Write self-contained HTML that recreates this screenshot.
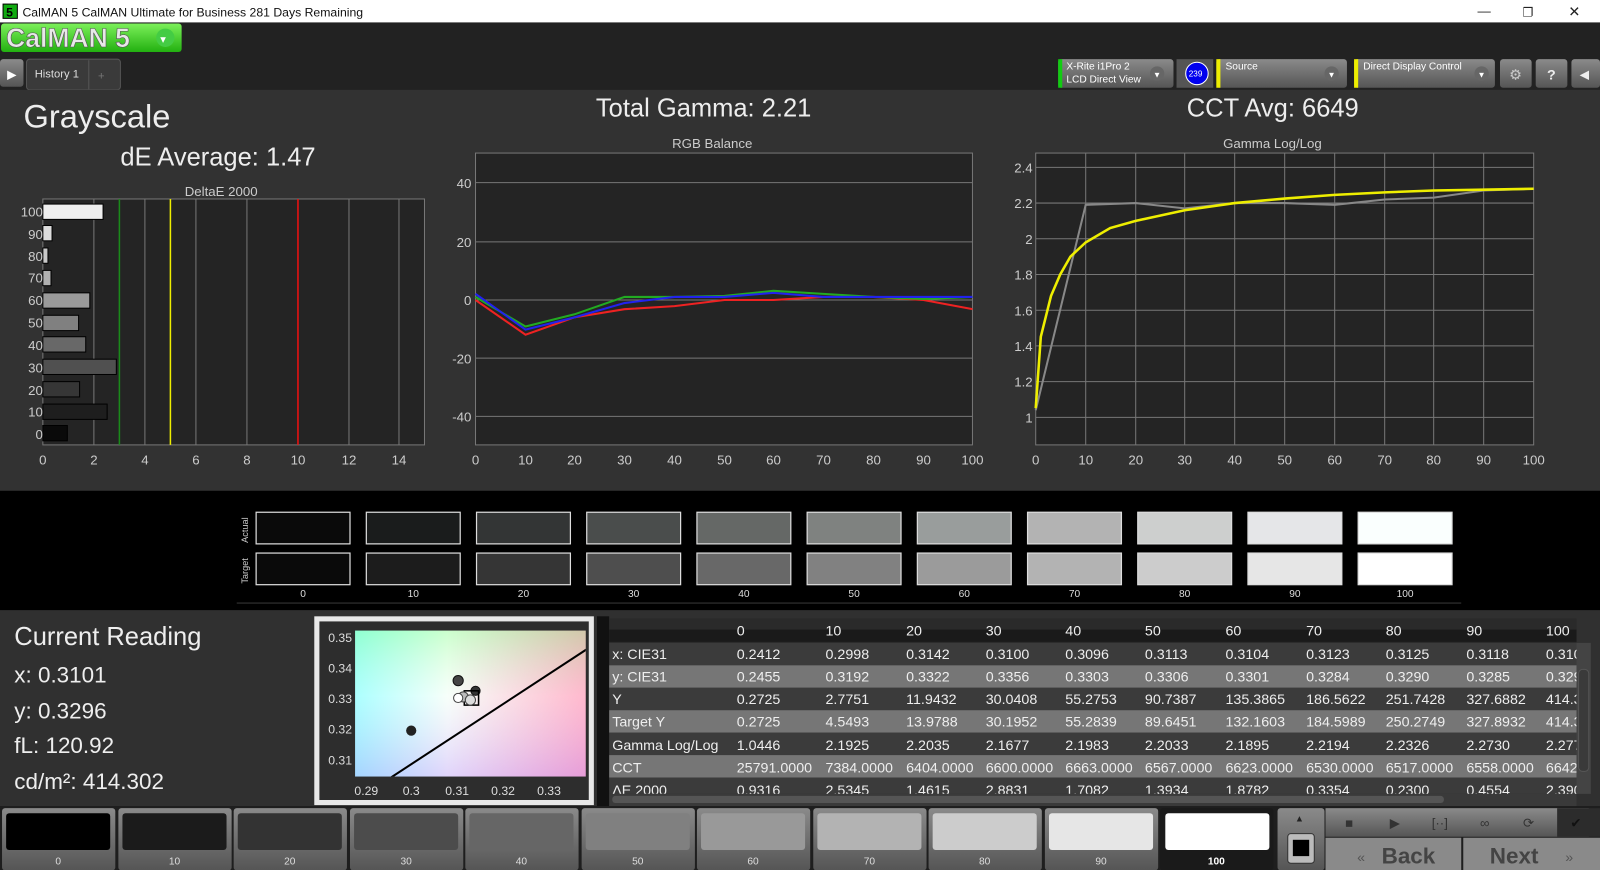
<!DOCTYPE html>
<html><head><meta charset="utf-8"><style>
html,body{margin:0;padding:0;background:#222;overflow:hidden}
svg{display:block}
text{font-family:"Liberation Sans","DejaVu Sans",sans-serif}
</style></head><body>
<svg width="1600" height="870" viewBox="0 0 1568 852.6" preserveAspectRatio="none" xmlns="http://www.w3.org/2000/svg">
<defs>
<linearGradient id="grn" x1="0" y1="0" x2="0" y2="1"><stop offset="0" stop-color="#7cf05a"/><stop offset="1" stop-color="#22b010"/></linearGradient>
<linearGradient id="btn" x1="0" y1="0" x2="0" y2="1"><stop offset="0" stop-color="#8a8a8a"/><stop offset="1" stop-color="#555"/></linearGradient>
<linearGradient id="cieH" x1="0" y1="0" x2="1" y2="0"><stop offset="0" stop-color="#8ff"/><stop offset="0.4" stop-color="#f4fff8"/><stop offset="1" stop-color="#ff9ab8"/></linearGradient>
<linearGradient id="cieV" x1="0" y1="0" x2="0" y2="1"><stop offset="0" stop-color="#9f9" stop-opacity="0.45"/><stop offset="0.45" stop-color="#fff" stop-opacity="0.3"/><stop offset="1" stop-color="#c8a0ff" stop-opacity="0.45"/></linearGradient>
<clipPath id="tbl"><rect x="597" y="606" width="948" height="172"/></clipPath>
<clipPath id="cie"><rect x="348" y="618" width="226" height="143"/></clipPath>
</defs>
<rect x="0" y="0" width="1568" height="22" fill="#fff"/>
<rect x="3" y="4" width="14" height="14" fill="#1a1" stroke="#000"/><text x="6" y="16" font-size="12" font-weight="bold" fill="#000">5</text>
<text x="22" y="16" font-size="12" fill="#111">CalMAN 5 CalMAN Ultimate for Business 281 Days Remaining</text>
<text x="1448" y="15" font-size="13" fill="#222">—</text><text x="1492" y="16" font-size="12" fill="#222">❐</text><text x="1537" y="16" font-size="14" fill="#222">✕</text>
<rect x="0" y="22" width="1568" height="66" fill="#222"/>
<rect x="1" y="23" width="177" height="28" rx="3" fill="url(#grn)"/>
<text x="6" y="46" font-size="26" font-weight="bold" fill="#e8e8e8" stroke="#555" stroke-width="0.6">CalMAN 5</text>
<circle cx="162" cy="37" r="9" fill="#4c4"/><text x="157" y="42" font-size="11" fill="#fff">▾</text>
<rect x="0" y="58" width="23" height="27" rx="3" fill="url(#btn)"/><text x="7" y="77" font-size="12" fill="#fff">▶</text>
<rect x="26" y="58" width="92" height="30" rx="3" fill="#3a3a3a" stroke="#555"/>
<text x="34" y="76" font-size="11" fill="#ddd">History 1</text><line x1="87" y1="59" x2="87" y2="88" stroke="#555"/>
<text x="96" y="78" font-size="11" fill="#777">+</text>
<rect x="1037" y="58" width="113" height="28" rx="3" fill="url(#btn)"/><rect x="1037" y="58" width="4" height="28" fill="#1c1"/>
<text x="1045" y="68" font-size="10" fill="#fff">X-Rite i1Pro 2</text><text x="1045" y="81" font-size="10" fill="#fff">LCD Direct View</text>
<circle cx="1134" cy="72" r="7" fill="#666"/><text x="1130" y="76" font-size="8" fill="#fff">▼</text>
<rect x="1153" y="58" width="36" height="28" fill="#555"/><circle cx="1173" cy="72" r="11" fill="#00e" stroke="#fff"/><text x="1165" y="75" font-size="8" fill="#fff">239</text>
<rect x="1192" y="58" width="128" height="28" rx="3" fill="url(#btn)"/><rect x="1192" y="58" width="4" height="28" fill="#ee0"/>
<text x="1201" y="68" font-size="10" fill="#fff">Source</text><circle cx="1305" cy="72" r="7" fill="#666"/><text x="1301" y="76" font-size="8" fill="#fff">▼</text>
<rect x="1327" y="58" width="138" height="28" rx="3" fill="url(#btn)"/><rect x="1327" y="58" width="4" height="28" fill="#ee0"/>
<text x="1336" y="68" font-size="10" fill="#fff">Direct Display Control</text><circle cx="1452" cy="72" r="7" fill="#666"/><text x="1448" y="76" font-size="8" fill="#fff">▼</text>
<rect x="1470" y="58" width="31" height="28" rx="3" fill="url(#btn)"/><text x="1479" y="78" font-size="14" fill="#ccc">⚙</text>
<rect x="1505" y="58" width="31" height="28" rx="3" fill="url(#btn)"/><text x="1516" y="78" font-size="14" font-weight="bold" fill="#eee">?</text>
<rect x="1540" y="58" width="28" height="28" rx="3" fill="url(#btn)"/><text x="1548" y="77" font-size="12" fill="#eee">◀</text>
<rect x="0" y="88" width="1568" height="393" fill="#323232"/>
<text x="23" y="125" font-size="32" fill="#eee">Grayscale</text>
<text x="118" y="162" font-size="25" fill="#eee">dE Average: 1.47</text>
<text x="584" y="114" font-size="25" fill="#eee">Total Gamma: 2.21</text>
<text x="1163" y="114" font-size="25" fill="#eee">CCT Avg: 6649</text>
<text x="181" y="192" font-size="13" fill="#ccc">DeltaE 2000</text>
<rect x="42" y="195" width="374" height="241" fill="#242424" stroke="#777"/>
<g stroke="#777" stroke-width="1">
<line x1="92" y1="195" x2="92" y2="436"/><line x1="142" y1="195" x2="142" y2="436"/><line x1="192" y1="195" x2="192" y2="436"/><line x1="242" y1="195" x2="242" y2="436"/><line x1="342" y1="195" x2="342" y2="436"/><line x1="391" y1="195" x2="391" y2="436"/>
</g>
<line x1="117" y1="195" x2="117" y2="436" stroke="#1a8a1a" stroke-width="1.5"/>
<line x1="167" y1="195" x2="167" y2="436" stroke="#ee0" stroke-width="1.5"/>
<line x1="292" y1="195" x2="292" y2="436" stroke="#e11" stroke-width="1.5"/>
<g stroke="#000" stroke-width="1">
<rect x="42" y="200" width="59" height="15" fill="#eee"/>
<rect x="42" y="221" width="9" height="15" fill="#ddd"/>
<rect x="42" y="243" width="5" height="15" fill="#c8c8c8"/>
<rect x="42" y="265" width="8" height="15" fill="#b0b0b0"/>
<rect x="42" y="287" width="46" height="15" fill="#9a9a9a"/>
<rect x="42" y="309" width="35" height="15" fill="#808080"/>
<rect x="42" y="330" width="42" height="15" fill="#686868"/>
<rect x="42" y="352" width="72" height="15" fill="#505050"/>
<rect x="42" y="374" width="36" height="15" fill="#363636"/>
<rect x="42" y="396" width="63" height="15" fill="#1e1e1e"/>
<rect x="42" y="417" width="24" height="15" fill="#0a0a0a"/>
</g>
<g font-size="13" fill="#ccc" text-anchor="end">
<text x="42" y="212">100</text><text x="42" y="234">90</text><text x="42" y="256">80</text><text x="42" y="277">70</text><text x="42" y="299">60</text><text x="42" y="321">50</text><text x="42" y="343">40</text><text x="42" y="365">30</text><text x="42" y="387">20</text><text x="42" y="408">10</text><text x="42" y="430">0</text>
</g>
<g font-size="13" fill="#ccc" text-anchor="middle">
<text x="42" y="455">0</text><text x="92" y="455">2</text><text x="142" y="455">4</text><text x="192" y="455">6</text><text x="242" y="455">8</text><text x="292" y="455">10</text><text x="342" y="455">12</text><text x="391" y="455">14</text>
</g>
<text x="698" y="145" font-size="13" fill="#ccc" text-anchor="middle">RGB Balance</text>
<rect x="466" y="150" width="487" height="286" fill="#242424" stroke="#777"/>
<g stroke="#777"><line x1="466" y1="179" x2="953" y2="179"/><line x1="466" y1="237" x2="953" y2="237"/><line x1="466" y1="294" x2="953" y2="294"/><line x1="466" y1="351" x2="953" y2="351"/><line x1="466" y1="408" x2="953" y2="408"/></g>
<polyline fill="none" stroke="#e22" stroke-width="2" points="466,294 515,328 563,311 612,303 661,300 710,294 758,294 807,291 856,291 905,294 953,303"/>
<polyline fill="none" stroke="#2a2" stroke-width="2" points="466,291 515,320 563,308 612,291 661,291 710,290 758,285 807,288 856,291 905,293 953,291"/>
<polyline fill="none" stroke="#22e" stroke-width="2" points="466,288 515,323 563,311 612,297 661,291 710,291 758,287 807,291 856,291 905,291 953,291"/>
<g font-size="13" fill="#ccc" text-anchor="end"><text x="462" y="184">40</text><text x="462" y="242">20</text><text x="462" y="299">0</text><text x="462" y="356">-20</text><text x="462" y="413">-40</text></g>
<g font-size="13" fill="#ccc" text-anchor="middle"><text x="466" y="455">0</text><text x="515" y="455">10</text><text x="563" y="455">20</text><text x="612" y="455">30</text><text x="661" y="455">40</text><text x="710" y="455">50</text><text x="758" y="455">60</text><text x="807" y="455">70</text><text x="856" y="455">80</text><text x="905" y="455">90</text><text x="953" y="455">100</text></g>
<text x="1247" y="145" font-size="13" fill="#ccc" text-anchor="middle">Gamma Log/Log</text>
<rect x="1015" y="150" width="488" height="286" fill="#242424" stroke="#777"/>
<g stroke="#777"><line x1="1015" y1="164" x2="1503" y2="164"/><line x1="1015" y1="199" x2="1503" y2="199"/><line x1="1015" y1="234" x2="1503" y2="234"/><line x1="1015" y1="269" x2="1503" y2="269"/><line x1="1015" y1="304" x2="1503" y2="304"/><line x1="1015" y1="339" x2="1503" y2="339"/><line x1="1015" y1="374" x2="1503" y2="374"/><line x1="1015" y1="409" x2="1503" y2="409"/>
<line x1="1064" y1="150" x2="1064" y2="436"/><line x1="1113" y1="150" x2="1113" y2="436"/><line x1="1161" y1="150" x2="1161" y2="436"/><line x1="1210" y1="150" x2="1210" y2="436"/><line x1="1259" y1="150" x2="1259" y2="436"/><line x1="1308" y1="150" x2="1308" y2="436"/><line x1="1357" y1="150" x2="1357" y2="436"/><line x1="1405" y1="150" x2="1405" y2="436"/><line x1="1454" y1="150" x2="1454" y2="436"/></g>
<polyline fill="none" stroke="#888" stroke-width="2" points="1015,402 1064,200.7 1113,199 1161,204.2 1210,199 1259,199 1308,200.7 1357,195.5 1405,193.7 1454,186.7 1503,185"/>
<polyline fill="none" stroke="#ee0" stroke-width="2.5" points="1015,400 1020,330 1030,290 1039,269 1049,251.5 1064,237.5 1088,223.5 1113,216.5 1161,206 1210,199 1259,194.6 1308,191 1357,188.5 1405,186.7 1454,185.9 1503,185"/>
<g font-size="13" fill="#ccc" text-anchor="end"><text x="1012" y="169">2.4</text><text x="1012" y="204">2.2</text><text x="1012" y="239">2</text><text x="1012" y="274">1.8</text><text x="1012" y="309">1.6</text><text x="1012" y="344">1.4</text><text x="1012" y="379">1.2</text><text x="1012" y="414">1</text></g>
<g font-size="13" fill="#ccc" text-anchor="middle"><text x="1015" y="455">0</text><text x="1064" y="455">10</text><text x="1113" y="455">20</text><text x="1161" y="455">30</text><text x="1210" y="455">40</text><text x="1259" y="455">50</text><text x="1308" y="455">60</text><text x="1357" y="455">70</text><text x="1405" y="455">80</text><text x="1454" y="455">90</text><text x="1503" y="455">100</text></g>
<rect x="0" y="481" width="1568" height="117" fill="#000"/>
<text x="0" y="0" font-size="9" fill="#ccc" transform="translate(243,532) rotate(-90)">Actual</text>
<text x="0" y="0" font-size="9" fill="#ccc" transform="translate(243,572) rotate(-90)">Target</text>
<g stroke="#ddd" stroke-width="1.2">
<rect x="251" y="502" width="92" height="31" fill="#0a0a0a"/><rect x="251" y="542" width="92" height="31" fill="#0a0a0a"/>
<rect x="359" y="502" width="92" height="31" fill="#1a1c1c"/><rect x="359" y="542" width="92" height="31" fill="#1c1c1c"/>
<rect x="467" y="502" width="92" height="31" fill="#333535"/><rect x="467" y="542" width="92" height="31" fill="#353535"/>
<rect x="575" y="502" width="92" height="31" fill="#4a4d4c"/><rect x="575" y="542" width="92" height="31" fill="#4e4e4e"/>
<rect x="683" y="502" width="92" height="31" fill="#656866"/><rect x="683" y="542" width="92" height="31" fill="#686868"/>
<rect x="791" y="502" width="92" height="31" fill="#7f8280"/><rect x="791" y="542" width="92" height="31" fill="#818181"/>
<rect x="899" y="502" width="92" height="31" fill="#999d9c"/><rect x="899" y="542" width="92" height="31" fill="#9b9b9b"/>
<rect x="1007" y="502" width="92" height="31" fill="#b3b3b3"/><rect x="1007" y="542" width="92" height="31" fill="#b3b3b3"/>
<rect x="1115" y="502" width="92" height="31" fill="#cdcfce"/><rect x="1115" y="542" width="92" height="31" fill="#cccccc"/>
<rect x="1223" y="502" width="92" height="31" fill="#e5e6e8"/><rect x="1223" y="542" width="92" height="31" fill="#e6e6e6"/>
<rect x="1331" y="502" width="92" height="31" fill="#fafffe"/><rect x="1331" y="542" width="92" height="31" fill="#ffffff"/>
</g>
<line x1="232" y1="591" x2="1432" y2="591" stroke="#333"/>
<g font-size="10" fill="#ddd" text-anchor="middle"><text x="297" y="585">0</text><text x="405" y="585">10</text><text x="513" y="585">20</text><text x="621" y="585">30</text><text x="729" y="585">40</text><text x="837" y="585">50</text><text x="945" y="585">60</text><text x="1053" y="585">70</text><text x="1161" y="585">80</text><text x="1269" y="585">90</text><text x="1377" y="585">100</text></g>
<rect x="0" y="598" width="1568" height="192" fill="#303030"/>
<text x="14" y="632" font-size="25" fill="#eee">Current Reading</text>
<text x="14" y="669" font-size="22" fill="#eee">x: 0.3101</text>
<text x="14" y="704" font-size="22" fill="#eee">y: 0.3296</text>
<text x="14" y="738" font-size="22" fill="#eee">fL: 120.92</text>
<text x="14" y="773" font-size="22" fill="#eee">cd/m²: 414.302</text>
<rect x="308" y="604" width="274" height="185" fill="#e8e8e8"/>
<rect x="313" y="609" width="264" height="175" fill="#2d2d2d"/>
<rect x="348" y="618" width="226" height="143" fill="url(#cieH)"/>
<rect x="348" y="618" width="226" height="143" fill="url(#cieV)"/>
<g clip-path="url(#cie)"><line x1="380" y1="764" x2="580" y2="633" stroke="#000" stroke-width="2"/></g>
<circle cx="403" cy="716" r="5" fill="#222"/>
<circle cx="449" cy="667" r="5" fill="#444" stroke="#111"/>
<circle cx="466" cy="677" r="4.5" fill="#333" stroke="#111"/>
<rect x="455" y="677" width="14" height="14" fill="none" stroke="#000" stroke-width="1.5"/>
<circle cx="454" cy="683" r="5" fill="#bbb" stroke="#444"/>
<circle cx="461" cy="686" r="5" fill="#ddd" stroke="#444"/>
<circle cx="449" cy="684" r="4.5" fill="#fff" stroke="#444"/>
<g font-size="12" fill="#ddd" text-anchor="end"><text x="345" y="629">0.35</text><text x="345" y="659">0.34</text><text x="345" y="689">0.33</text><text x="345" y="719">0.32</text><text x="345" y="749">0.31</text></g>
<g font-size="12" fill="#ddd" text-anchor="middle"><text x="359" y="779">0.29</text><text x="403" y="779">0.3</text><text x="448" y="779">0.31</text><text x="493" y="779">0.32</text><text x="538" y="779">0.33</text></g>
<rect x="585" y="604" width="12" height="186" fill="#111"/>
<rect x="597" y="606" width="948" height="24" fill="#2a2a2a"/>
<rect x="597" y="617" width="948" height="12" fill="#1a1a1a"/>
<rect x="597" y="630" width="948" height="22" fill="#3b3b3b"/>
<rect x="597" y="652" width="948" height="22" fill="#767676"/>
<rect x="597" y="674" width="948" height="22" fill="#3b3b3b"/>
<rect x="597" y="696" width="948" height="22" fill="#767676"/>
<rect x="597" y="718" width="948" height="22" fill="#3b3b3b"/>
<rect x="597" y="740" width="948" height="22" fill="#767676"/>
<rect x="597" y="762" width="948" height="16" fill="#3b3b3b"/>
<g clip-path="url(#tbl)" font-size="14" fill="#eee">
<g><text x="722" y="623">0</text><text x="809" y="623">10</text><text x="888" y="623">20</text><text x="966" y="623">30</text><text x="1044" y="623">40</text><text x="1122" y="623">50</text><text x="1201" y="623">60</text><text x="1280" y="623">70</text><text x="1358" y="623">80</text><text x="1437" y="623">90</text><text x="1515" y="623">100</text></g>
<g><text x="600" y="646">x: CIE31</text><text x="722" y="646">0.2412</text><text x="809" y="646">0.2998</text><text x="888" y="646">0.3142</text><text x="966" y="646">0.3100</text><text x="1044" y="646">0.3096</text><text x="1122" y="646">0.3113</text><text x="1201" y="646">0.3104</text><text x="1280" y="646">0.3123</text><text x="1358" y="646">0.3125</text><text x="1437" y="646">0.3118</text><text x="1515" y="646">0.3104</text></g>
<g><text x="600" y="668">y: CIE31</text><text x="722" y="668">0.2455</text><text x="809" y="668">0.3192</text><text x="888" y="668">0.3322</text><text x="966" y="668">0.3356</text><text x="1044" y="668">0.3303</text><text x="1122" y="668">0.3306</text><text x="1201" y="668">0.3301</text><text x="1280" y="668">0.3284</text><text x="1358" y="668">0.3290</text><text x="1437" y="668">0.3285</text><text x="1515" y="668">0.3296</text></g>
<g><text x="600" y="690">Y</text><text x="722" y="690">0.2725</text><text x="809" y="690">2.7751</text><text x="888" y="690">11.9432</text><text x="966" y="690">30.0408</text><text x="1044" y="690">55.2753</text><text x="1122" y="690">90.7387</text><text x="1201" y="690">135.3865</text><text x="1280" y="690">186.5622</text><text x="1358" y="690">251.7428</text><text x="1437" y="690">327.6882</text><text x="1515" y="690">414.3020</text></g>
<g><text x="600" y="712">Target Y</text><text x="722" y="712">0.2725</text><text x="809" y="712">4.5493</text><text x="888" y="712">13.9788</text><text x="966" y="712">30.1952</text><text x="1044" y="712">55.2839</text><text x="1122" y="712">89.6451</text><text x="1201" y="712">132.1603</text><text x="1280" y="712">184.5989</text><text x="1358" y="712">250.2749</text><text x="1437" y="712">327.8932</text><text x="1515" y="712">414.3020</text></g>
<g><text x="600" y="735">Gamma Log/Log</text><text x="722" y="735">1.0446</text><text x="809" y="735">2.1925</text><text x="888" y="735">2.2035</text><text x="966" y="735">2.1677</text><text x="1044" y="735">2.1983</text><text x="1122" y="735">2.2033</text><text x="1201" y="735">2.1895</text><text x="1280" y="735">2.2194</text><text x="1358" y="735">2.2326</text><text x="1437" y="735">2.2730</text><text x="1515" y="735">2.2777</text></g>
<g><text x="600" y="757">CCT</text><text x="722" y="757">25791.0000</text><text x="809" y="757">7384.0000</text><text x="888" y="757">6404.0000</text><text x="966" y="757">6600.0000</text><text x="1044" y="757">6663.0000</text><text x="1122" y="757">6567.0000</text><text x="1201" y="757">6623.0000</text><text x="1280" y="757">6530.0000</text><text x="1358" y="757">6517.0000</text><text x="1437" y="757">6558.0000</text><text x="1515" y="757">6642.0000</text></g>
<g><text x="600" y="779">ΔE 2000</text><text x="722" y="779">0.9316</text><text x="809" y="779">2.5345</text><text x="888" y="779">1.4615</text><text x="966" y="779">2.8831</text><text x="1044" y="779">1.7082</text><text x="1122" y="779">1.3934</text><text x="1201" y="779">1.8782</text><text x="1280" y="779">0.3354</text><text x="1358" y="779">0.2300</text><text x="1437" y="779">0.4554</text><text x="1515" y="779">2.3900</text></g>
</g>
<rect x="597" y="778" width="948" height="12" fill="#3a3a3a"/><rect x="600" y="780" width="815" height="7" rx="3" fill="#555"/>
<rect x="1545" y="630" width="14" height="148" fill="#444"/><rect x="1547" y="656" width="10" height="100" rx="4" fill="#3a3a3a" stroke="#555"/>
<rect x="0" y="790" width="1568" height="63" fill="#1e1e1e"/>
<g>
<rect x="2" y="792" width="111" height="61" rx="3" fill="url(#btn)"/><rect x="6" y="797" width="102" height="36" rx="3" fill="#000"/>
<rect x="116" y="792" width="111" height="61" rx="3" fill="url(#btn)"/><rect x="120" y="797" width="102" height="36" rx="3" fill="#1b1b1b"/>
<rect x="229" y="792" width="111" height="61" rx="3" fill="url(#btn)"/><rect x="233" y="797" width="102" height="36" rx="3" fill="#333"/>
<rect x="343" y="792" width="111" height="61" rx="3" fill="url(#btn)"/><rect x="347" y="797" width="102" height="36" rx="3" fill="#4c4c4c"/>
<rect x="456" y="792" width="111" height="61" rx="3" fill="url(#btn)"/><rect x="460" y="797" width="102" height="36" rx="3" fill="#666"/>
<rect x="570" y="792" width="111" height="61" rx="3" fill="url(#btn)"/><rect x="574" y="797" width="102" height="36" rx="3" fill="#808080"/>
<rect x="683" y="792" width="111" height="61" rx="3" fill="url(#btn)"/><rect x="687" y="797" width="102" height="36" rx="3" fill="#999"/>
<rect x="797" y="792" width="111" height="61" rx="3" fill="url(#btn)"/><rect x="801" y="797" width="102" height="36" rx="3" fill="#b3b3b3"/>
<rect x="910" y="792" width="111" height="61" rx="3" fill="url(#btn)"/><rect x="914" y="797" width="102" height="36" rx="3" fill="#ccc"/>
<rect x="1024" y="792" width="111" height="61" rx="3" fill="url(#btn)"/><rect x="1028" y="797" width="102" height="36" rx="3" fill="#e6e6e6"/>
<rect x="1137" y="792" width="111" height="61" rx="3" fill="#1a1a1a"/><rect x="1142" y="797" width="102" height="36" rx="3" fill="#fff"/>
</g>
<g font-size="10" fill="#ddd" text-anchor="middle"><text x="57" y="847">0</text><text x="171" y="847">10</text><text x="284" y="847">20</text><text x="398" y="847">30</text><text x="511" y="847">40</text><text x="625" y="847">50</text><text x="738" y="847">60</text><text x="852" y="847">70</text><text x="965" y="847">80</text><text x="1079" y="847">90</text><text x="1192" y="847" font-weight="bold" fill="#fff">100</text></g>
<rect x="1252" y="792" width="46" height="61" rx="3" fill="url(#btn)"/><text x="1269" y="805" font-size="9" fill="#222">▲</text>
<rect x="1262" y="817" width="26" height="29" rx="3" fill="#bbb" stroke="#333"/><rect x="1267" y="823" width="16" height="16" fill="#000"/>
<rect x="1299" y="792" width="258" height="28" fill="url(#btn)"/>
<g font-size="13" fill="#333" text-anchor="middle"><text x="1322" y="811">■</text><text x="1367" y="811">▶</text><text x="1411" y="811">[··]</text><text x="1455" y="811">∞</text><text x="1498" y="811">⟳</text></g>
<rect x="1526" y="792" width="42" height="28" fill="#2c2c2c"/><text x="1539" y="811" font-size="13" fill="#111">✔</text>
<rect x="1299" y="821" width="133" height="32" fill="#8a8a8a"/><rect x="1434" y="821" width="134" height="32" fill="#8a8a8a"/>
<text x="1330" y="845" font-size="14" fill="#555">«</text><text x="1354" y="846" font-size="22" font-weight="bold" fill="#444">Back</text>
<text x="1460" y="846" font-size="22" font-weight="bold" fill="#444">Next</text><text x="1534" y="845" font-size="14" fill="#555">»</text>
</svg>
</body></html>
